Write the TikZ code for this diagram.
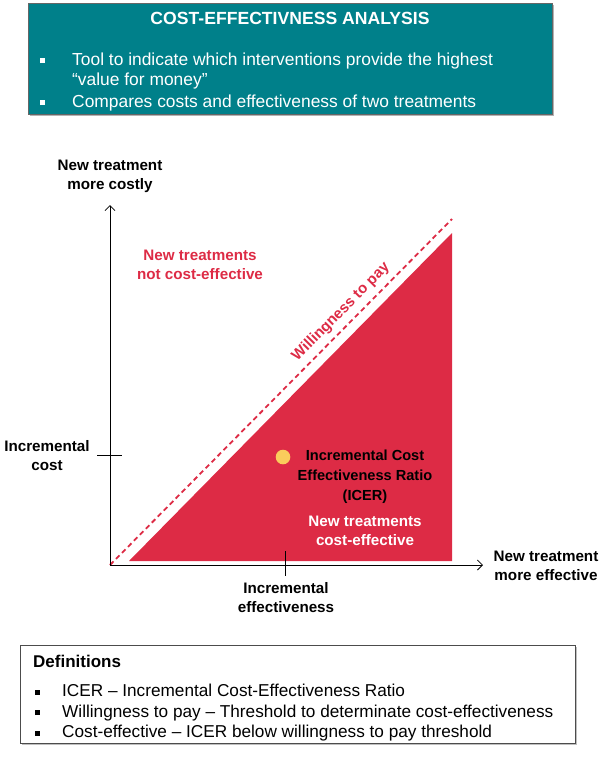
\documentclass[tikz,border=0pt]{standalone}
\usepackage{fontspec}
\setmainfont{Liberation Sans}
\usetikzlibrary{arrows.meta,shadows}
\definecolor{boxteal}{RGB}{0,128,138}
\definecolor{icered}{RGB}{221,43,69}
\definecolor{dotyellow}{RGB}{250,204,92}
\newcommand{\sqbul}{\rule[0.2ex]{5pt}{5pt}}
\begin{document}
\begin{tikzpicture}[x=1pt, y=-1pt, >={Straight Barb[length=5pt,width=10pt]},
  axislabel/.style={font=\bfseries\fontsize{15.2}{19}\selectfont, align=center},
  boxtext/.style={anchor=base west, font=\fontsize{17.4}{20}\selectfont, inner sep=0pt},
  deftext/.style={anchor=base west, font=\fontsize{17.2}{20}\selectfont, inner sep=0pt}]
  \useasboundingbox (0,0) rectangle (600,764);
  % Kasten oben
  \node[draw=black!60, fill=boxteal, drop shadow={shadow xshift=2pt, shadow yshift=-2pt, opacity=0.6},
        minimum width=524pt, minimum height=111pt, anchor=north west, inner sep=0pt] (summary) at (28,3) {};
  \node[text=white, font=\bfseries\fontsize{17.6}{20}\selectfont] (title) at (290,18) {COST-EFFECTIVNESS ANALYSIS};
  \node[boxtext, text=white] (b1) at (40,65) {\sqbul};
  \node[boxtext, text=white] (t1) at (72,65) {Tool to indicate which interventions provide the highest};
  \node[boxtext, text=white] (t2) at (72,85) {``value for money''};
  \node[boxtext, text=white] (b2) at (40,107) {\sqbul};
  \node[boxtext, text=white] (t3) at (72,107) {Compares costs and effectiveness of two treatments};
  % Achsen
  \coordinate (O) at (110,565);
  \coordinate (ytop) at (110,205);
  \coordinate (xend) at (483,565);
  \fill[icered] (129,561) -- (452,561) -- (452,233) -- cycle;
  \draw[icered, dash pattern=on 5pt off 3.5pt, line width=1.8pt] (O) -- (452,219);
  \draw[->, line width=0.8pt] (O) -- (ytop);
  \draw[->, line width=0.8pt] (O) -- (xend);
  \draw[line width=0.8pt] (97,455) -- (122,455);
  \draw[line width=0.8pt] (285,551) -- (285,576);
  \node[axislabel] (ylab) at (110,176) {New treatment\\more costly};
  \node[axislabel] (xlab) at (546,566) {New treatment\\more effective};
  \node[axislabel] (costlab) at (47,456) {Incremental\\cost};
  \node[axislabel] (efflab) at (286,598) {Incremental\\effectiveness};
  % Schwellenwert
  \node[axislabel, text=icered, font=\bfseries\fontsize{15}{18}\selectfont, rotate=45.3] (wtp) at (341,312) {Willingness to pay};
  \node[axislabel, text=icered] (notce) at (200,265) {New treatments\\not cost-effective};
  \node[axislabel, text=white] (ce) at (365,531) {New treatments\\cost-effective};
  % ICER-Punkt
  \fill[dotyellow] (283,457) circle (7.3);
  \node[axislabel, text=black, font=\bfseries\fontsize{14.6}{20}\selectfont] (icer) at (365,477) {Incremental Cost\\Effectiveness Ratio\\(ICER)};
  % Definitionen
  \node[draw=black!70, fill=white, drop shadow={shadow xshift=1.5pt, shadow yshift=-1.5pt, opacity=0.5},
        minimum width=555pt, minimum height=98pt, anchor=north west, inner sep=0pt] (defs) at (20,645) {};
  \node[deftext, font=\bfseries\fontsize{17}{20}\selectfont] (dhead) at (33,667) {Definitions};
  \foreach \txt [count=\i] in {ICER -- Incremental Cost-Effectiveness Ratio,
      Willingness to pay -- Threshold to determinate cost-effectiveness,
      Cost-effective -- ICER below willingness to pay threshold} {
    \node[deftext] (db\i) at (35,676+20.5*\i) {\sqbul};
    \node[deftext] (dt\i) at (62,676+20.5*\i) {\txt};
  }
\end{tikzpicture}
\end{document}
